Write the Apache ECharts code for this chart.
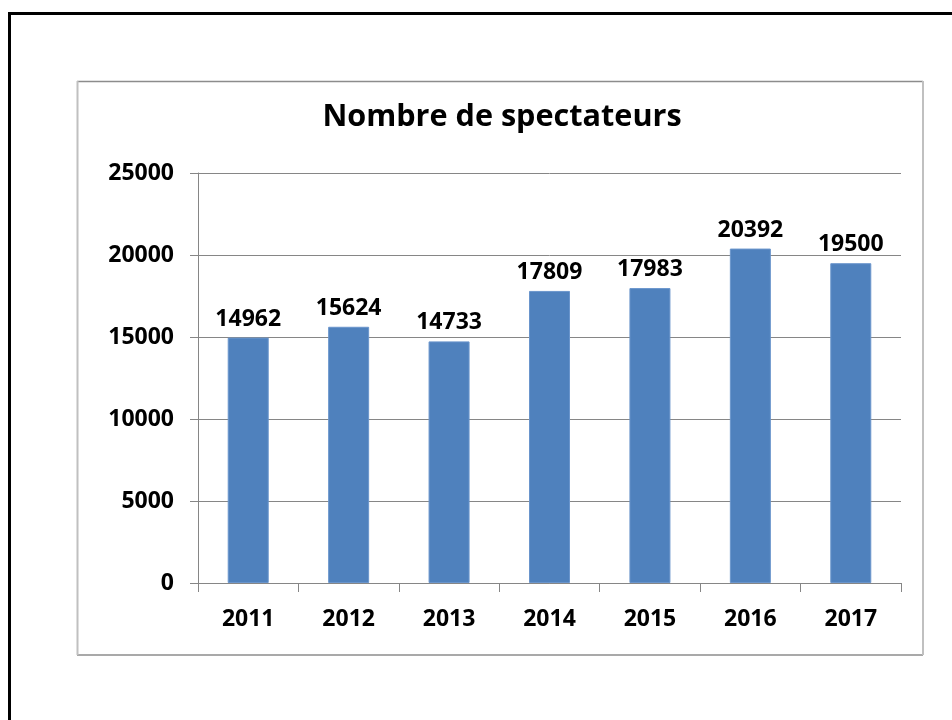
<!DOCTYPE html>
<html>
<head>
<meta charset="utf-8">
<script src="https://cdn.jsdelivr.net/npm/echarts@6/dist/echarts.min.js"></script>
<style>
	html, body { margin: 0; padding: 0; background: #fff; }
	#chart { width: 952px; height: 720px; }
</style>
</head>
<body>
<div id="chart"></div>
<script>
var years = ['2011', '2012', '2013', '2014', '2015', '2016', '2017'];
var spectateurs = [14962, 15624, 14733, 17809, 17983, 20392, 19500];
var yTicks = [0, 5000, 10000, 15000, 20000, 25000];

var font = '"Open Sans"';
var chart = echarts.init(document.getElementById('chart'), null, { renderer: 'canvas' });

chart.setOption({
	animation: false,
	backgroundColor: '#fff',
	title: {
		text: 'Nombre de spectateurs',
		left: 497,
		top: 97,
		textAlign: 'center',
		textStyle: { fontFamily: font, fontWeight: 'bold', fontSize: 30.6, color: '#000' }
	},
	grid: { left: 198, right: 51, top: 173, bottom: 137 },
	xAxis: {
		type: 'category',
		data: years,
		axisLine: { lineStyle: { color: '#868686', width: 1 } },
		axisTick: { show: true, length: 9, lineStyle: { color: '#868686' } },
		axisLabel: { margin: 25, fontFamily: font, fontWeight: 'bold', fontSize: 23, color: '#000' }
	},
	yAxis: {
		type: 'value',
		min: yTicks[0],
		max: yTicks[yTicks.length - 1],
		interval: 5000,
		axisLine: { show: true, lineStyle: { color: '#868686', width: 1 } },
		axisTick: { show: true, length: 8, lineStyle: { color: '#868686' } },
		axisLabel: {
			margin: 24, fontFamily: font, fontWeight: 'bold', fontSize: 23, color: '#000',
			formatter: function (v) { return String(v); }
		},
		splitLine: { lineStyle: { color: '#868686', width: 1 } }
	},
	series: [{
		type: 'bar',
		data: spectateurs,
		barWidth: 41,
		itemStyle: { color: '#4f81bd', borderColor: '#6a95cc', borderWidth: 1 },
		label: {
			show: true,
			position: 'top',
			distance: 7,
			fontFamily: font, fontWeight: 'bold', fontSize: 23, color: '#000'
		}
	}],
	graphic: [
		// outer page frame
		{ type: 'rect', shape: { x: 9.5, y: 13.5, width: 1000, height: 1000 },
			style: { fill: null, stroke: '#000', lineWidth: 3 }, silent: true },
		// chart area frame
		{ type: 'line', shape: { x1: 77, y1: 81.5, x2: 923, y2: 81.5 }, style: { stroke: '#8c8c8c', lineWidth: 1.5 } },
		{ type: 'line', shape: { x1: 77, y1: 655, x2: 923, y2: 655 }, style: { stroke: '#8c8c8c', lineWidth: 1.5 } },
		{ type: 'line', shape: { x1: 77.5, y1: 81, x2: 77.5, y2: 655 }, style: { stroke: '#c0c0c0', lineWidth: 2 } },
		{ type: 'line', shape: { x1: 923, y1: 81, x2: 923, y2: 655 }, style: { stroke: '#c0c0c0', lineWidth: 2 } }
	]
});
</script>
</body>
</html>
